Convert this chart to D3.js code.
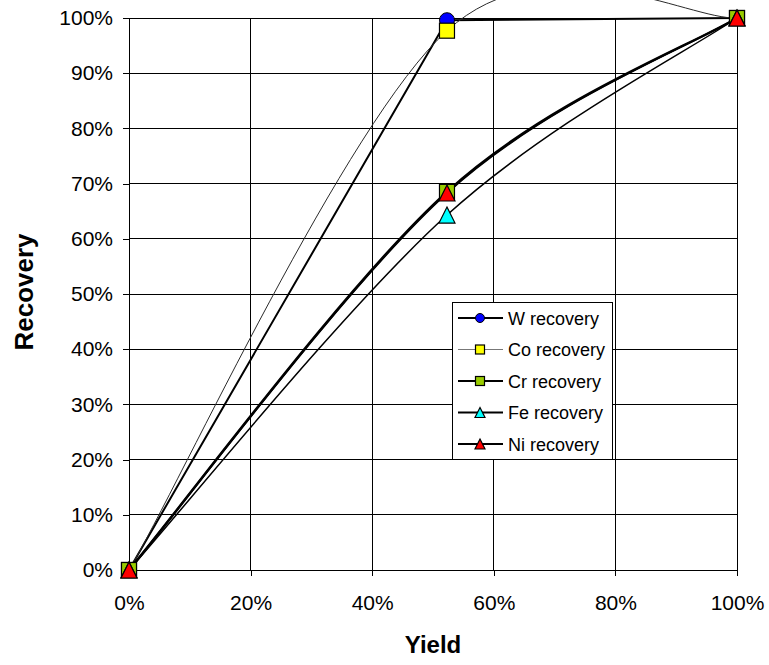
<!DOCTYPE html>
<html><head><meta charset="utf-8">
<script src="https://cdn.jsdelivr.net/npm/d3@7"></script>
<style>
body{margin:0;background:#fff;}
text{font-family:Arial,"Liberation Sans",sans-serif;fill:#000;}
</style>
</head><body><svg id="c" width="769" height="665"></svg>
<script>
// ---- data ----
const yieldVals = [0, 0.523, 1];
const seriesNames = ["W recovery", "Co recovery", "Cr recovery", "Fe recovery", "Ni recovery"];
const wRec  = [0, 0.996, 1];
const coRec = [0, 0.977, 1];
const crRec = [0, 0.685, 1];
const feRec = [0, 0.643, 1];
const niRec = [0, 0.683, 1];
const xTicks = [0, 0.2, 0.4, 0.6, 0.8, 1];
const yTicks = [0, 0.1, 0.2, 0.3, 0.4, 0.5, 0.6, 0.7, 0.8, 0.9, 1];

// ---- styles ----
const styles = [
  {fill:"#0000FF", shape:"circle",   stroke:"#000", legendStroke:"#000", width:2,   smooth:false},
  {fill:"#FFFF00", shape:"square",   stroke:"#2a2a2a", legendStroke:"#777", width:1, smooth:true},
  {fill:"#99CC00", shape:"square",   stroke:"#000", legendStroke:"#000", width:2.5, smooth:true},
  {fill:"#00FFFF", shape:"triangle", stroke:"#000", legendStroke:"#000", width:1.5, smooth:true},
  {fill:"#FF0000", shape:"triangle", stroke:"#000", legendStroke:"#000", width:2,   smooth:true}
];
const values = [wRec, coRec, crRec, feRec, niRec];

// Excel-like smoothing curve (Catmull-Rom with duplicated end points)
function ExcelSmooth(context){ this._context = context; }
ExcelSmooth.prototype = {
  areaStart(){ this._line = 0; }, areaEnd(){ this._line = NaN; },
  lineStart(){ this._pts = []; },
  lineEnd(){
    const p = this._pts, c = this._context, n = p.length;
    if(!n) return;
    c.moveTo(p[0][0], p[0][1]);
    for(let i=0;i<n-1;i++){
      const p0 = p[Math.max(i-1,0)], p1 = p[i], p2 = p[i+1], p3 = p[Math.min(i+2,n-1)];
      c.bezierCurveTo(p1[0]+(p2[0]-p0[0])/6, p1[1]+(p2[1]-p0[1])/6,
                      p2[0]-(p3[0]-p1[0])/6, p2[1]-(p3[1]-p1[1])/6, p2[0], p2[1]);
    }
  },
  point(x,y){ this._pts.push([+x,+y]); }
};
const curveExcel = ctx => new ExcelSmooth(ctx);

const svg = d3.select("#c");
svg.append("rect").attr("width",769).attr("height",665).attr("fill","#fff");

const x = d3.scaleLinear().domain([0,1]).range([129,737]);
const y = d3.scaleLinear().domain([0,1]).range([570,18]);

// grid
const grid = svg.append("g").attr("shape-rendering","crispEdges").attr("stroke","#000").attr("stroke-width",1);
grid.selectAll(".gy").data(yTicks.filter(d=>d>0)).enter().append("line")
  .attr("x1",x(0)).attr("x2",x(1)).attr("y1",d=>y(d)).attr("y2",d=>y(d));
grid.selectAll(".gx").data(xTicks.filter(d=>d>0)).enter().append("line")
  .attr("y1",y(0)).attr("y2",y(1)).attr("x1",d=>x(d)).attr("x2",d=>x(d));

const fmt = d3.format(".0%");
const xAxis = svg.append("g").attr("transform",`translate(0,${y(0)})`)
  .call(d3.axisBottom(x).tickValues(xTicks).tickFormat(fmt).tickSize(6).tickSizeOuter(0).tickPadding(19));
const yAxis = svg.append("g").attr("transform",`translate(${x(0)},0)`)
  .call(d3.axisLeft(y).tickValues(yTicks).tickFormat(fmt).tickSize(6).tickSizeOuter(0).tickPadding(10));
[xAxis,yAxis].forEach(a=>{
  a.attr("font-family",null).attr("font-size",null);
  a.selectAll("path,line").attr("stroke","#000").attr("shape-rendering","crispEdges");
  a.selectAll("text").style("font-size","21px");
});

// axis titles
svg.append("text").attr("x",433).attr("y",653).attr("text-anchor","middle")
  .style("font-size","24px").style("font-weight","bold").text("Yield");
svg.append("text").attr("transform","translate(33,292) rotate(-90)").attr("text-anchor","middle")
  .style("font-size","26px").style("font-weight","bold").text("Recovery");

// lines
const lineSmooth = d3.line().x(d=>x(d[0])).y(d=>y(d[1])).curve(curveExcel);
const lineStraight = d3.line().x(d=>x(d[0])).y(d=>y(d[1]));
values.forEach((vals,i)=>{
  const pts = yieldVals.map((v,j)=>[v, vals[j]]);
  svg.append("path").attr("d",(styles[i].smooth?lineSmooth:lineStraight)(pts))
    .attr("fill","none").attr("stroke",styles[i].stroke).attr("stroke-width",styles[i].width);
});

function marker(g, shape, cx, cy, s, fill){
  if(shape==="circle"){
    g.append("circle").attr("cx",cx).attr("cy",cy).attr("r",s/2).attr("fill",fill).attr("stroke","#000").attr("stroke-width",1);
  } else if(shape==="square"){
    g.append("rect").attr("x",cx-s/2).attr("y",cy-s/2).attr("width",s).attr("height",s).attr("fill",fill).attr("stroke","#000").attr("stroke-width",1.2);
  } else {
    const h=s;
    g.append("path").attr("d",`M${cx},${cy-h/2}L${cx+s/2},${cy+h/2}L${cx-s/2},${cy+h/2}Z`).attr("fill",fill).attr("stroke","#000").attr("stroke-width",1.2);
  }
}
const mg = svg.append("g");
values.forEach((vals,i)=>{
  yieldVals.forEach((v,j)=>{
    marker(mg, styles[i].shape, x(v), y(vals[j]), styles[i].shape==="triangle"?16:15, styles[i].fill);
  });
});

// legend
const lg = svg.append("g");
lg.append("rect").attr("x",452).attr("y",302).attr("width",160).attr("height",157)
  .attr("fill","#fff").attr("stroke","#000").attr("stroke-width",1).attr("shape-rendering","crispEdges");
seriesNames.forEach((name,i)=>{
  const cy = 318 + i*31.5;
  lg.append("line").attr("x1",458).attr("x2",503).attr("y1",cy).attr("y2",cy)
    .attr("stroke",styles[i].legendStroke).attr("stroke-width",i===1?1:2);
  marker(lg, styles[i].shape, 480, cy, styles[i].shape==="triangle"?10:9, styles[i].fill);
  lg.append("text").attr("x",508).attr("y",cy+6.5).style("font-size","18px").text(name);
});
</script></body></html>
